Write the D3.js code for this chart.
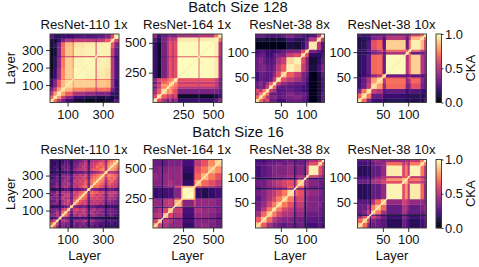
<!DOCTYPE html>
<html><head><meta charset="utf-8">
<script src="https://cdn.jsdelivr.net/npm/d3@7"></script>
<style>html,body{margin:0;padding:0;background:#fff}svg{display:block}text{font-family:"Liberation Sans",Arial,sans-serif;fill:#111}</style>
</head><body><svg id="c" width="479" height="267"></svg>
<script>
const rowTitles = ["Batch Size 128", "Batch Size 16"];
const panelTitles = ["ResNet-110 1x", "ResNet-164 1x", "ResNet-38 8x", "ResNet-38 10x"];
const layerCounts = [392, 574, 136, 136];
const tickValues = [[100, 300], [250, 500], [50, 100], [50, 100]];
const yTickValues = [[100, 200, 300], [250, 500], [50, 100], [50, 100]];
const ckaTicks = [0, 0.5, 1];

const edgesA1 = [0,20,39,63,86,129,135,196,259,265,314,345,365,392];
const ckaA1 = [[.9],[.7,.95],[.5,.78,.95],[.35,.55,.8,.92],[.2,.38,.65,.85,.93],[.22,.32,.52,.7,.78,.97],[.1,.2,.47,.75,.9,.8,.99],[.07,.15,.42,.72,.9,.75,.98,.99],[.12,.18,.32,.48,.58,.45,.6,.6,1],[.07,.12,.37,.7,.88,.72,.96,.97,.6,.98],[.1,.15,.36,.68,.86,.7,.94,.96,.6,.97,.98],[.14,.1,.2,.36,.48,.38,.52,.52,.32,.55,.65,.9],[.28,.17,.15,.2,.2,.2,.25,.25,.2,.3,.38,.6,.98]];
const edgesA2 = [0,34,69,115,135,155,175,204,379,387,511,545,574];
const ckaA2 = [[.92],[.6,.92],[.45,.65,.92],[.32,.55,.75,.96],[.48,.58,.8,.78,.96],[.32,.48,.68,.72,.85,.96],[.42,.58,.62,.68,.72,.78,.96],[.2,.08,.35,.5,.62,.55,.62,1],[.22,.1,.3,.4,.45,.45,.5,.62,1],[.2,.08,.35,.5,.62,.55,.62,.99,.62,1],[.26,.12,.35,.45,.55,.5,.55,.95,.62,.96,.98],[.42,.2,.3,.35,.35,.35,.35,.45,.4,.5,.72,.98]];
const edgesA3 = [0,7,14,20,27,34,41,50,61,76,90,98,105,121,129,136];
const ckaA3 = [[.92],[.68,.92],[.5,.72,.92],[.6,.5,.7,.92],[.3,.35,.32,.55,.92],[.32,.4,.3,.45,.65,.92],[.22,.3,.28,.25,.3,.55,.92],[.22,.32,.3,.28,.28,.42,.6,.88],[.32,.35,.38,.3,.28,.35,.52,.65,.98],[.32,.38,.32,.25,.25,.3,.45,.55,.92,.97],[.25,.3,.3,.2,.2,.3,.35,.35,.55,.6,.88],[.22,.25,.28,.2,.2,.2,.25,.3,.38,.38,.6,.88],[.04,.05,.04,.05,.04,.05,.05,.05,.12,.1,.18,.35,.95],[.12,.12,.12,.1,.1,.1,.1,.12,.22,.17,.15,.28,.5,.88],[.3,.3,.3,.25,.25,.25,.25,.32,.38,.3,.25,.2,.25,.52,.96]];
const edgesA4 = [0,8,18,27,38,48,50,56,95,101,105,124,131,136];
const ckaA4 = [[.92],[.68,.92],[.38,.72,.94],[.2,.32,.55,.92],[.2,.3,.48,.8,.92],[.3,.4,.52,.72,.88,1],[.14,.2,.25,.4,.5,.75,.92],[.15,.2,.3,.68,.7,.6,.32,.99],[.14,.15,.2,.35,.4,.5,.28,.48,.92],[.2,.2,.3,.4,.5,.72,.35,.68,.65,1],[.14,.15,.25,.62,.68,.58,.28,.9,.32,.7,.97],[.14,.15,.2,.35,.4,.4,.25,.5,.3,.55,.85,.92],[.25,.2,.2,.3,.3,.35,.3,.4,.35,.42,.58,.68,.98]];
const edgesB1 = [0,16,33,49,65,82,98,114,131,147,163,180,196,212,229,245,261,278,294,310,327,343,359,376,392];
const ckaB1 = [[.85],[.7,.85],[.45,.6,.85],[.2,.25,.3,.85],[.4,.4,.5,.35,.85],[.3,.35,.5,.3,.7,.85],[.35,.35,.4,.25,.55,.6,.85],[.15,.2,.2,.15,.25,.3,.4,.85],[.35,.4,.4,.2,.5,.55,.55,.4,.85],[.3,.3,.45,.2,.45,.5,.6,.35,.7,.85],[.4,.35,.4,.25,.55,.45,.5,.3,.6,.65,.85],[.3,.4,.45,.2,.45,.55,.55,.35,.55,.6,.7,.85],[.35,.3,.5,.2,.5,.45,.5,.3,.6,.55,.65,.7,.85],[.15,.15,.2,.1,.2,.25,.25,.15,.3,.3,.3,.35,.4,.85],[.3,.35,.45,.2,.45,.5,.45,.3,.55,.5,.6,.65,.7,.4,.85],[.25,.3,.4,.15,.45,.4,.5,.3,.5,.55,.55,.6,.65,.35,.7,.85],[.3,.3,.35,.15,.4,.45,.4,.25,.55,.5,.6,.55,.65,.35,.7,.75,.85],[.2,.25,.35,.15,.35,.4,.45,.25,.45,.55,.5,.6,.55,.3,.65,.7,.75,.85],[.25,.25,.3,.12,.4,.35,.4,.25,.5,.45,.55,.5,.6,.3,.6,.65,.7,.75,.85],[.12,.15,.2,.1,.2,.2,.25,.12,.25,.3,.3,.3,.35,.2,.35,.4,.45,.5,.6,.85],[.2,.2,.3,.1,.3,.35,.35,.2,.4,.45,.5,.5,.55,.3,.6,.65,.65,.7,.75,.5,.85],[.15,.25,.25,.12,.35,.3,.35,.2,.35,.4,.45,.55,.5,.3,.55,.6,.7,.65,.7,.5,.8,.85],[.2,.15,.25,.1,.25,.3,.3,.15,.35,.35,.45,.45,.55,.25,.55,.55,.6,.7,.65,.45,.75,.8,.9],[.15,.2,.2,.1,.2,.25,.25,.15,.3,.3,.35,.4,.45,.2,.45,.5,.5,.55,.6,.4,.65,.7,.8,.95]];
const edgesB2 = [0,40,75,83,126,169,178,235,247,339,353,402,459,517,574];
const ckaB2 = [[.85],[.58,.85],[.2,.28,.9],[.48,.52,.25,.85],[.42,.48,.2,.58,.85],[.16,.18,.12,.22,.28,.9],[.42,.42,.18,.5,.55,.25,.85],[.38,.38,.22,.47,.52,.28,.68,.9],[.18,.22,.12,.22,.24,.14,.38,.82,1],[.32,.32,.18,.38,.42,.22,.58,.78,.82,.9],[.38,.38,.18,.42,.47,.22,.42,.42,.18,.62,.85],[.42,.38,.18,.42,.42,.22,.42,.42,.14,.55,.68,.85],[.36,.38,.14,.38,.42,.22,.42,.42,.18,.5,.62,.72,.85],[.32,.32,.14,.32,.36,.18,.36,.36,.22,.42,.52,.62,.76,.9]];
const edgesB3 = [0,11,22,33,41,52,63,76,79,83,96,100,105,124,131,136];
const ckaB3 = [[.88],[.65,.88],[.45,.68,.88],[.35,.5,.72,.92],[.33,.42,.58,.72,.88],[.28,.38,.48,.58,.72,.88],[.33,.38,.47,.52,.62,.72,.92],[.12,.14,.16,.2,.2,.25,.35,.92],[.28,.33,.38,.42,.47,.52,.68,.3,.96],[.33,.33,.42,.47,.52,.58,.62,.28,.65,.88],[.12,.14,.14,.16,.16,.2,.2,.1,.22,.38,.88],[.22,.28,.33,.38,.42,.42,.47,.18,.42,.47,.35,.88],[.22,.28,.32,.37,.37,.37,.42,.15,.33,.38,.18,.58,.97],[.27,.27,.32,.32,.37,.32,.37,.18,.32,.32,.22,.47,.62,.88],[.22,.22,.27,.27,.27,.32,.32,.18,.27,.32,.22,.37,.47,.62,.96]];
const edgesB4 = [0,10,19,24,27,35,46,57,88,94,99,103,124,131,136];
const ckaB4 = [[.88],[.68,.88],[.42,.62,.88],[.14,.18,.32,.9],[.32,.37,.57,.32,.88],[.32,.32,.47,.22,.72,.88],[.27,.27,.32,.14,.47,.68,.88],[.16,.16,.2,.1,.3,.3,.42,.98],[.32,.32,.37,.16,.47,.47,.57,.62,.88],[.27,.27,.32,.14,.42,.47,.52,.78,.88,.92],[.22,.22,.27,.12,.32,.37,.47,.52,.62,.62,.88],[.16,.16,.2,.1,.3,.3,.42,.96,.58,.72,.52,.98],[.22,.22,.27,.12,.32,.37,.42,.68,.52,.62,.47,.72,.88],[.27,.27,.32,.16,.37,.42,.37,.42,.42,.47,.42,.52,.72,.98]];

const rowEdges = [[edgesA1,edgesA2,edgesA3,edgesA4],[edgesB1,edgesB2,edgesB3,edgesB4]];
const rowCka = [[ckaA1,ckaA2,ckaA3,ckaA4],[ckaB1,ckaB2,ckaB3,ckaB4]];

const svg = d3.select("#c");
const defs = svg.append("defs");
defs.append("filter").attr("id","soft").attr("x","-5%").attr("y","-5%").attr("width","110%").attr("height","110%")
  .append("feGaussianBlur").attr("stdDeviation",0.6);

const panelX = [50,153,255.5,357.5], panelW = 69;
const rowY = [34,159.5], panelH = 68.5;
const titleY = [12,137], subY = [29,154];
const color = d3.scaleSequential(d3.interpolateMagma).domain([0,1]);

function styleAxis(g){
  g.select(".domain").remove();
  g.selectAll("line").attr("stroke","#000").attr("stroke-width",0.8);
  g.selectAll("text").attr("font-size",12.9).attr("fill","#111");
}

rowTitles.forEach((t,r)=>{
  const top = rowY[r], bottom = top+panelH;
  svg.append("text").attr("x",238).attr("y",titleY[r]).attr("text-anchor","middle").attr("font-size",14.8).text(t);
  panelTitles.forEach((pt,c)=>{
    const N = layerCounts[c], x0 = panelX[c];
    const x = d3.scaleLinear().domain([0,N]).range([x0,x0+panelW]);
    const y = d3.scaleLinear().domain([0,N]).range([bottom,top]);
    const edges = rowEdges[r][c], m = rowCka[r][c];
    const cid = "clip"+r+c;
    defs.append("clipPath").attr("id",cid).append("rect").attr("x",x0).attr("y",top).attr("width",panelW).attr("height",panelH);
    const cells = [];
    m.forEach((row,i)=>row.forEach((v,j)=>{
      cells.push({i,j,v});
      if(i!==j) cells.push({i:j,j:i,v});
    }));
    const g = svg.append("g").attr("clip-path",`url(#${cid})`).append("g").attr("filter","url(#soft)");
    g.selectAll("rect").data(cells).join("rect")
      .attr("x",d=>x(edges[d.j])).attr("width",d=>x(edges[d.j+1])-x(edges[d.j])+0.3)
      .attr("y",d=>y(edges[d.i+1])-0.3).attr("height",d=>y(edges[d.i])-y(edges[d.i+1])+0.3)
      .attr("fill",d=>color(d.v));
    g.append("path").datum([0,N]).attr("fill","none").attr("stroke",color(0.97)).attr("stroke-width",1.1)
      .attr("d",d3.line().x(d=>x(d)).y(d=>y(d)));
    svg.append("rect").attr("x",x0).attr("y",top).attr("width",panelW).attr("height",panelH)
      .attr("fill","none").attr("stroke","#333").attr("stroke-width",0.9);
    svg.append("g").attr("transform",`translate(0,${bottom})`)
      .call(d3.axisBottom(x).tickValues(tickValues[c]).tickSize(4).tickPadding(3)).call(styleAxis);
    svg.append("g").attr("transform",`translate(${x0},0)`)
      .call(d3.axisLeft(y).tickValues(yTickValues[c]).tickSize(4).tickPadding(2.5)).call(styleAxis);
    svg.append("text").attr("x",x0+panelW/2-0.5).attr("y",subY[r]).attr("text-anchor","middle").attr("font-size",13.2).text(pt);
    if(r===1) svg.append("text").attr("x",x0+panelW/2).attr("y",260).attr("text-anchor","middle").attr("font-size",13).text("Layer");
  });
  svg.append("text").attr("transform",`translate(15,${top+panelH/2}) rotate(-90)`).attr("text-anchor","middle").attr("font-size",13).text("Layer");
  const cy = d3.scaleLinear().domain([0,1]).range([bottom,top]);
  const steps = d3.range(0,1,0.01);
  svg.append("g").selectAll("rect").data(steps).join("rect")
    .attr("x",436).attr("width",5.5)
    .attr("y",d=>cy(d+0.01)-0.2).attr("height",d=>cy(d)-cy(d+0.01)+0.4)
    .attr("fill",d=>color(d));
  svg.append("rect").attr("x",436).attr("y",top).attr("width",5.5).attr("height",panelH).attr("fill","none").attr("stroke","#333").attr("stroke-width",0.9);
  svg.append("g").attr("transform","translate(441.5,0)")
    .call(d3.axisRight(cy).tickValues(ckaTicks).tickFormat(d3.format(".1f")).tickSize(2).tickPadding(1.5)).call(styleAxis);
  svg.append("text").attr("transform",`translate(475,${top+panelH/2}) rotate(-90)`).attr("text-anchor","middle").attr("font-size",13).text("CKA");
});
</script></body></html>
